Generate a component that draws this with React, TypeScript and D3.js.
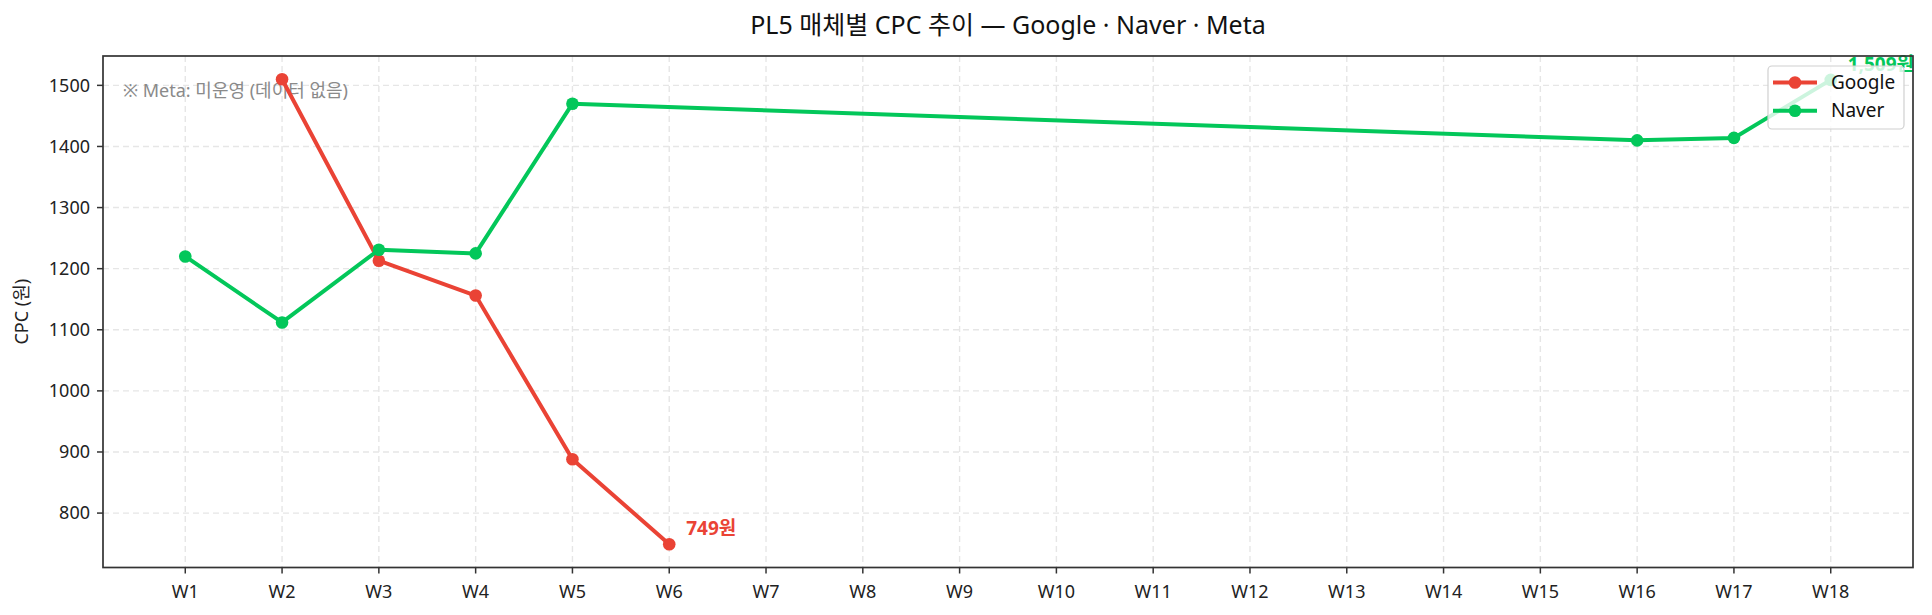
import { useEffect, useRef } from 'react';
import * as d3 from 'd3';

// 주차 라벨
const weeks = ['W1', 'W2', 'W3', 'W4', 'W5', 'W6', 'W7', 'W8', 'W9', 'W10', 'W11', 'W12', 'W13', 'W14', 'W15', 'W16', 'W17', 'W18'];

// Google: W2~W6 only
const googleWeeks = [2, 3, 4, 5, 6];
const googleValues = [1510, 1213, 1156, 888, 749];

// Naver: W1~W5, W16~W18
const naverWeeks = [1, 2, 3, 4, 5, 16, 17, 18];
const naverValues = [1220, 1112, 1231, 1225, 1470, 1410, 1414, 1509];

const yTicks = [800, 900, 1000, 1100, 1200, 1300, 1400, 1500];

const GOOGLE = '#EA4335';
const NAVER = '#03C75A';
const FONT = '"Noto Sans", "Noto Sans CJK KR", sans-serif';

const App = () => {
    const ref = useRef(null);

    useEffect(() => {
        const svg = d3.select(ref.current);
        svg.selectAll('*').remove();

        const width = 1932;
        const height = 615;
        const margin = { left: 103, right: 19, top: 56, bottom: 47.5 };

        // matplotlib style 5% margins
        const xPad = (weeks.length - 1) * 0.05;
        const x = d3.scaleLinear()
            .domain([1 - xPad, weeks.length + xPad])
            .range([margin.left, width - margin.right]);

        const all = [...googleValues, ...naverValues];
        const lo = d3.min(all), hi = d3.max(all);
        const yPad = (hi - lo) * 0.05;
        const y = d3.scaleLinear()
            .domain([lo - yPad, hi + yPad])
            .range([height - margin.bottom, margin.top]);

        svg.style('font-family', FONT);

        // grid
        const grid = svg.append('g')
            .attr('stroke', '#e6e6e6')
            .attr('stroke-width', 1.4)
            .attr('stroke-dasharray', '6,4');
        grid.selectAll('line.gx')
            .data(weeks)
            .join('line')
            .attr('x1', (d, i) => x(i + 1))
            .attr('x2', (d, i) => x(i + 1))
            .attr('y1', margin.top)
            .attr('y2', height - margin.bottom);
        grid.selectAll('line.gy')
            .data(yTicks)
            .join('line')
            .attr('x1', margin.left)
            .attr('x2', width - margin.right)
            .attr('y1', d => y(d))
            .attr('y2', d => y(d));

        // note about Meta
        svg.append('text')
            .attr('x', margin.left + 20)
            .attr('y', 97)
            .attr('fill', '#8a8a8a')
            .style('font-size', '18px')
            .text('※ Meta: 미운영 (데이터 없음)');

        const line = d3.line()
            .x(d => x(d[0]))
            .y(d => y(d[1]));

        const series = [
            { name: 'Google', color: GOOGLE, weeks: googleWeeks, values: googleValues },
            { name: 'Naver', color: NAVER, weeks: naverWeeks, values: naverValues },
        ];

        series.forEach(s => {
            const pts = s.weeks.map((w, i) => [w, s.values[i]]);
            svg.append('path')
                .datum(pts)
                .attr('fill', 'none')
                .attr('stroke', s.color)
                .attr('stroke-width', 4)
                .attr('stroke-linejoin', 'round')
                .attr('d', line);
            svg.append('g')
                .selectAll('circle')
                .data(pts)
                .join('circle')
                .attr('cx', d => x(d[0]))
                .attr('cy', d => y(d[1]))
                .attr('r', 6.3)
                .attr('fill', s.color);

            // last value label
            const last = pts[pts.length - 1];
            svg.append('text')
                .attr('x', x(last[0]) + 17)
                .attr('y', y(last[1]) - 9)
                .attr('fill', s.color)
                .style('font-size', '19px')
                .style('font-weight', 'bold')
                .text(`${d3.format(',')(last[1])}원`);
        });

        // spines
        svg.append('rect')
            .attr('x', margin.left)
            .attr('y', margin.top)
            .attr('width', width - margin.left - margin.right)
            .attr('height', height - margin.top - margin.bottom)
            .attr('fill', 'none')
            .attr('stroke', '#333')
            .attr('stroke-width', 1.7);

        // x axis
        const xa = svg.append('g');
        xa.selectAll('line')
            .data(weeks)
            .join('line')
            .attr('x1', (d, i) => x(i + 1))
            .attr('x2', (d, i) => x(i + 1))
            .attr('y1', height - margin.bottom)
            .attr('y2', height - margin.bottom + 6)
            .attr('stroke', '#333')
            .attr('stroke-width', 1.5);
        xa.selectAll('text')
            .data(weeks)
            .join('text')
            .attr('x', (d, i) => x(i + 1))
            .attr('y', height - margin.bottom + 30)
            .attr('text-anchor', 'middle')
            .attr('fill', '#222')
            .style('font-size', '18px')
            .text(d => d);

        // y axis
        const ya = svg.append('g');
        ya.selectAll('line')
            .data(yTicks)
            .join('line')
            .attr('x1', margin.left - 6)
            .attr('x2', margin.left)
            .attr('y1', d => y(d))
            .attr('y2', d => y(d))
            .attr('stroke', '#333')
            .attr('stroke-width', 1.5);
        ya.selectAll('text')
            .data(yTicks)
            .join('text')
            .attr('x', margin.left - 13)
            .attr('y', d => y(d))
            .attr('dy', '0.35em')
            .attr('text-anchor', 'end')
            .attr('fill', '#222')
            .style('font-size', '18px')
            .text(d => d);

        svg.append('text')
            .attr('transform', `translate(22,${(margin.top + height - margin.bottom) / 2}) rotate(-90)`)
            .attr('text-anchor', 'middle')
            .attr('dy', '0.35em')
            .attr('fill', '#222')
            .style('font-size', '18px')
            .text('CPC (원)');

        // title
        svg.append('text')
            .attr('x', (margin.left + width - margin.right) / 2)
            .attr('y', 25)
            .attr('dy', '0.35em')
            .attr('text-anchor', 'middle')
            .attr('fill', '#111')
            .style('font-size', '25px')
            .text('PL5 매체별 CPC 추이 — Google · Naver · Meta');

        // legend
        const lg = svg.append('g');
        lg.append('rect')
            .attr('x', 1768)
            .attr('y', 66)
            .attr('width', 136)
            .attr('height', 63)
            .attr('rx', 4)
            .attr('fill', 'white')
            .attr('fill-opacity', 0.8)
            .attr('stroke', '#d0d0d0')
            .attr('stroke-width', 1.2);
        series.forEach((s, i) => {
            const cy = 82.5 + i * 28.3;
            lg.append('line')
                .attr('x1', 1773).attr('x2', 1817)
                .attr('y1', cy).attr('y2', cy)
                .attr('stroke', s.color)
                .attr('stroke-width', 4);
            lg.append('circle')
                .attr('cx', 1795).attr('cy', cy).attr('r', 6.3)
                .attr('fill', s.color);
            lg.append('text')
                .attr('x', 1831)
                .attr('y', cy)
                .attr('dy', '0.35em')
                .attr('fill', '#111')
                .style('font-size', '19px')
                .text(s.name);
        });
    }, []);

    return (
        <svg ref={ref} width={1932} height={615} style={{ position: 'absolute', left: 0, top: 0 }} />
    );
};

export default App;
